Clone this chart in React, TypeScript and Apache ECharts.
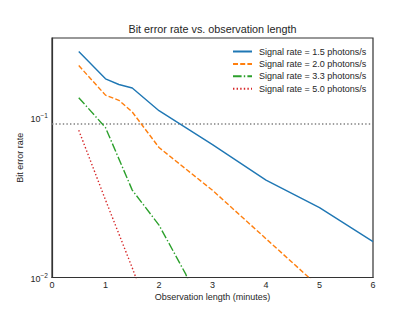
import React, { useEffect, useRef } from "react";
import * as echarts from "echarts";

const seriesNames = [
  "Signal rate = 1.5 photons/s",
  "Signal rate = 2.0 photons/s",
  "Signal rate = 3.3 photons/s",
  "Signal rate = 5.0 photons/s",
];
const x15 = [0.5, 1, 1.25, 1.5, 2, 3, 4, 5, 6];
const y15 = [0.261, 0.176, 0.162, 0.154, 0.111, 0.068, 0.0408, 0.0274, 0.0168];
const x20 = [0.5, 1, 1.25, 1.5, 2, 3, 4, 5];
const y20 = [0.213, 0.139, 0.129, 0.109, 0.0653, 0.0352, 0.0175, 0.0087];
const x33 = [0.5, 1, 1.5, 2, 2.5, 3];
const y33 = [0.134, 0.087, 0.0353, 0.0213, 0.0105, 0.004];
const x50 = [0.5, 1, 1.5, 2];
const y50 = [0.0837, 0.0306, 0.0115, 0.004];
const thresholdX = [0, 6];
const threshold = 0.0917;
const xTicks = [0, 1, 2, 3, 4, 5, 6];

const colors = ["#1f77b4", "#ff7f0e", "#2ca02c", "#d62728"];
const dashes: any[] = ["solid", [5, 2.2], [8.6, 2.2, 1.4, 2.2], [1.4, 2.2]];
const FONT = "'Liberation Sans', Arial, sans-serif";

const zip = (xs: number[], ys: number[]) => xs.map((x, i) => [x, ys[i]]);

export default function App() {
  const ref = useRef<HTMLDivElement>(null);
  useEffect(() => {
    if (!ref.current) return;
    const chart = echarts.init(ref.current, undefined, { renderer: "svg" });
    const data = [zip(x15, y15), zip(x20, y20), zip(x33, y33), zip(x50, y50)];
    const series: any[] = data.map((d, i) => ({
      name: seriesNames[i],
      type: "line",
      data: d,
      symbol: "none",
      clip: true,
      lineStyle: { color: colors[i], width: 1.4, type: dashes[i] },
      itemStyle: { color: colors[i] },
      z: 3,
    }));
    series.push({
      name: "threshold",
      type: "line",
      data: thresholdX.map((x) => [x, threshold]),
      symbol: "none",
      lineStyle: { color: "#808080", width: 1.4, type: [1.4, 2.2] },
      z: 2,
    });
    chart.setOption({
      animation: false,
      textStyle: { fontFamily: FONT },
      title: {
        text: "Bit error rate vs. observation length",
        left: 212.5,
        textAlign: "center",
        top: 23,
        padding: 0,
        textStyle: { fontSize: 10.8, fontWeight: "normal", color: "#262626", fontFamily: FONT },
      },
      legend: {
        data: seriesNames,
        orient: "vertical",
        left: 232,
        top: 47,
        padding: 0,
        itemWidth: 19,
        itemHeight: 10,
        itemGap: 3.4,
        itemStyle: { opacity: 0 },
        textStyle: { fontSize: 9, color: "#262626", fontFamily: FONT, padding: [0, 0, 0, 2] },
      },
      grid: {
        left: 52,
        right: 42,
        top: 38,
        bottom: 35.5,
        show: true,
        borderColor: "#333",
        borderWidth: 1.2,
        backgroundColor: "transparent",
      },
      xAxis: {
        type: "value",
        min: xTicks[0],
        max: xTicks[xTicks.length - 1],
        interval: 1,
        name: "Observation length (minutes)",
        nameLocation: "middle",
        nameGap: 15,
        nameMoveOverlap: false,
        nameTextStyle: { fontSize: 9, color: "#262626", fontFamily: FONT },
        axisLine: { show: true, lineStyle: { color: "#333", width: 1.2 } },
        axisTick: { show: false },
        splitLine: { show: false },
        axisLabel: { fontSize: 9, color: "#262626", margin: 3, fontFamily: FONT },
      },
      yAxis: {
        type: "log",
        logBase: 10,
        min: 0.01,
        max: 0.317,
        name: "Bit error rate",
        nameLocation: "middle",
        nameGap: 28,
        nameMoveOverlap: false,
        nameTextStyle: { fontSize: 9, color: "#262626", fontFamily: FONT },
        axisLine: { show: true, lineStyle: { color: "#333", width: 1.2 } },
        axisTick: { show: false },
        minorTick: { show: false },
        splitLine: { show: false },
        axisLabel: {
          margin: 4,
          showMaxLabel: false,
          formatter: (v: number) => {
            const l = Math.log10(v);
            if (Math.abs(l - Math.round(l)) > 1e-6) return "";
            return "{b|10}{s|\u2212" + Math.abs(Math.round(l)) + "}";
          },
          rich: {
            b: { fontSize: 9, color: "#262626", fontFamily: FONT, verticalAlign: "bottom", lineHeight: 12 },
            s: { fontSize: 6.5, color: "#262626", fontFamily: FONT, verticalAlign: "top", lineHeight: 8 },
          },
        },
      },
      series,
    });
    return () => chart.dispose();
  }, []);
  return (
    <div
      ref={ref}
      style={{ position: "fixed", left: 0, top: 0, width: 415, height: 313, background: "#fff" }}
    />
  );
}
